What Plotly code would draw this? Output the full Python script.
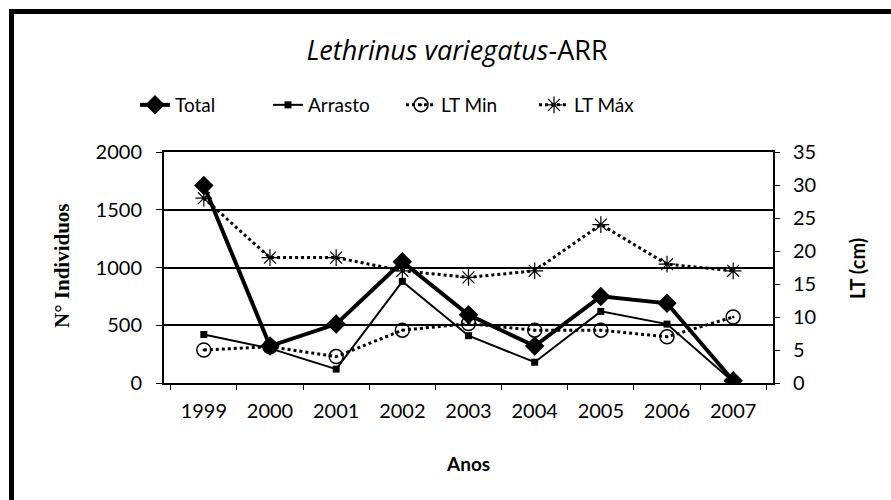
import plotly.graph_objects as go

anos = ["1999", "2000", "2001", "2002", "2003", "2004", "2005", "2006", "2007"]
total = [1710, 320, 510, 1050, 590, 320, 750, 690, 20]
arrasto = [420, 300, 120, 880, 410, 180, 620, 510, 10]
lt_min = [5, 5.5, 4, 8, 9, 8, 8, 7, 10]
lt_max = [28, 19, 19, 17, 16, 17, 24, 18, 17]

FONT = "Lato, 'Open Sans', sans-serif"
L, R, T, B = 164, 773, 152, 383
W, H = R - L, B - T


def px(x):
    return (x - L) / W


def py(y):
    return (B - y) / H


fig = go.Figure()
fig.add_trace(go.Scatter(x=anos, y=total, name="Total", mode="lines+markers",
                         line=dict(color="black", width=4),
                         marker=dict(symbol="diamond", size=15, color="black")))
fig.add_trace(go.Scatter(x=anos, y=arrasto, name="Arrasto", mode="lines+markers",
                         line=dict(color="black", width=2),
                         marker=dict(symbol="square", size=7, color="black")))
fig.add_trace(go.Scatter(x=anos, y=lt_min, name="LT Min", mode="lines+markers", yaxis="y2",
                         line=dict(color="black", width=3, dash="dot"),
                         marker=dict(symbol="circle-open-dot", size=14, color="black",
                                     line=dict(width=1.5, color="black"))))
fig.add_trace(go.Scatter(x=anos, y=lt_max, name="LT Máx", mode="lines+markers", yaxis="y2",
                         line=dict(color="black", width=3, dash="dot"),
                         marker=dict(symbol="asterisk-open", size=14, color="black",
                                     line=dict(width=1.2, color="black"))))

fig.update_layout(
    width=891, height=500,
    margin=dict(l=L, r=891 - R, t=T, b=500 - B),
    paper_bgcolor="white", plot_bgcolor="white",
    font=dict(family=FONT, color="black", size=20),
    title=dict(text="<i>Lethrinus variegatus</i>-ARR", x=457 / 891, xanchor="center",
               y=1 - 51 / 500, yanchor="middle",
               font=dict(size=27, family="'Open Sans', Lato, sans-serif")),
    legend=dict(orientation="h", x=px(135), xanchor="left", y=py(105), yanchor="middle",
                font=dict(size=19, family=FONT), entrywidth=88, entrywidthmode="pixels",
                bgcolor="rgba(0,0,0,0)"),
    showlegend=True,
    xaxis=dict(type="category", showline=True, linecolor="black", linewidth=2, mirror=True,
               ticks="outside", tickson="boundaries", ticklen=5, tickcolor="black",
               showgrid=False, tickfont=dict(size=20, family=FONT), ticklabelstandoff=9),
    yaxis=dict(range=[0, 2000], dtick=500, showline=True, linecolor="black", linewidth=2,
               ticks="outside", ticklen=6, tickcolor="black", showgrid=True,
               gridcolor="black", gridwidth=1.5, zeroline=False,
               tickfont=dict(size=20, family=FONT), ticklabelstandoff=10),
    yaxis2=dict(range=[0, 35], dtick=5, overlaying="y", side="right", showline=True,
                linecolor="black", linewidth=2, ticks="outside", ticklen=5, tickcolor="black",
                showgrid=False, zeroline=False, tickfont=dict(size=20, family=FONT),
                ticklabelstandoff=9),
    annotations=[
        dict(text="<b>Anos</b>", xref="paper", yref="paper", x=px(468), y=py(463),
             showarrow=False, xanchor="center", yanchor="middle",
             font=dict(size=19, family=FONT)),
        dict(text="<b>N° Individuos</b>", xref="paper", yref="paper",
             x=px(62), y=py(266), textangle=-90, showarrow=False,
             xanchor="center", yanchor="middle",
             font=dict(size=21, family="'Liberation Serif', 'DejaVu Serif', serif")),
        dict(text="<b>LT (cm)</b>", xref="paper", yref="paper",
             x=px(857), y=py(269), textangle=-90, showarrow=False,
             xanchor="center", yanchor="middle", font=dict(size=20, family=FONT)),
    ],
    shapes=[
        dict(type="line", xref="paper", yref="paper", x0=px(9), x1=1.3,
             y0=py(11.5), y1=py(11.5), line=dict(color="black", width=5)),
        dict(type="line", xref="paper", yref="paper", x0=px(11.5), x1=px(11.5),
             y0=-0.7, y1=py(9), line=dict(color="black", width=5)),
    ],
)

fig.write_html("out.html", config={"displayModeBar": False},
               post_script="document.body.style.margin='0';")
